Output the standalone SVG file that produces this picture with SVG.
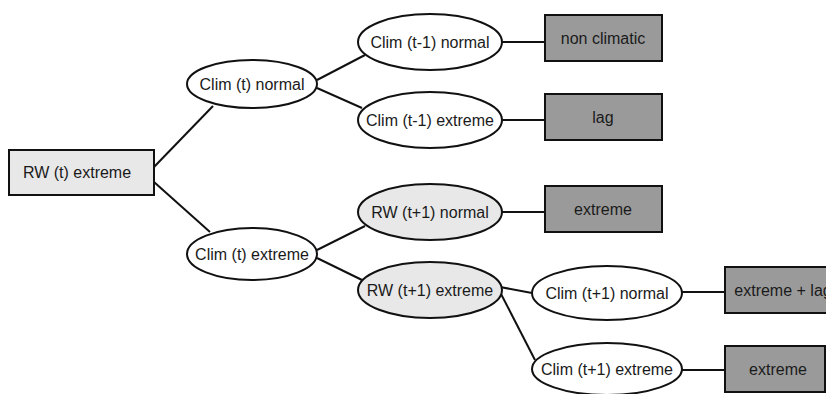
<svg xmlns="http://www.w3.org/2000/svg" width="826" height="394" viewBox="0 0 826 394">
<style>
.n{stroke:#111;stroke-width:2;fill:#fff}
.lt{fill:#e8e8e8}
.dk{fill:#9a9a9a}
.c{stroke:#111;stroke-width:2;fill:none}
text{font-family:"Liberation Sans",Arial,sans-serif;font-size:16px;fill:#1a1a1a;text-anchor:middle}
</style>
<rect width="826" height="394" fill="#fff"/>
<g id="connectors">
<line class="c" x1="154" y1="167" x2="213" y2="106"/>
<line class="c" x1="154" y1="182" x2="210" y2="232"/>
<line class="c" x1="317" y1="80" x2="365" y2="55"/>
<line class="c" x1="317" y1="88" x2="362" y2="108"/>
<line class="c" x1="317" y1="250" x2="365" y2="226"/>
<line class="c" x1="317" y1="258" x2="362" y2="280"/>
<line class="c" x1="502" y1="42" x2="545" y2="42"/>
<line class="c" x1="502" y1="120" x2="545" y2="120"/>
<line class="c" x1="501" y1="212" x2="545" y2="212"/>
<line class="c" x1="500" y1="287" x2="532" y2="293"/>
<line class="c" x1="500" y1="292" x2="535" y2="360"/>
<line class="c" x1="682" y1="292" x2="725" y2="292"/>
<line class="c" x1="682" y1="370" x2="725" y2="370"/>
</g>
<g id="rw_t_extreme"><rect class="n lt" x="9" y="150" width="145" height="45"/><text x="77" y="178">RW (t) extreme</text></g>
<g id="clim_t_normal"><ellipse class="n" cx="252" cy="84" rx="65" ry="24"/><text x="252" y="90">Clim (t) normal</text></g>
<g id="clim_t_extreme"><ellipse class="n" cx="252" cy="254" rx="65" ry="26"/><text x="252" y="260">Clim (t) extreme</text></g>
<g id="clim_tm1_normal"><ellipse class="n" cx="430" cy="42" rx="72" ry="28"/><text x="430" y="48">Clim (t-1) normal</text></g>
<g id="clim_tm1_extreme"><ellipse class="n" cx="430" cy="120" rx="72" ry="28"/><text x="430" y="126">Clim (t-1) extreme</text></g>
<g id="rw_tp1_normal"><ellipse class="n lt" cx="430" cy="212" rx="72" ry="28"/><text x="430" y="218">RW (t+1) normal</text></g>
<g id="rw_tp1_extreme"><ellipse class="n lt" cx="430" cy="290" rx="72" ry="28"/><text x="430" y="296">RW (t+1) extreme</text></g>
<g id="clim_tp1_normal"><ellipse class="n" cx="607" cy="293" rx="75" ry="27"/><text x="607" y="299">Clim (t+1) normal</text></g>
<g id="clim_tp1_extreme"><ellipse class="n" cx="607" cy="369" rx="75" ry="26"/><text x="607" y="375">Clim (t+1) extreme</text></g>
<g id="non_climatic"><rect class="n dk" x="545" y="15" width="117" height="46"/><text x="603" y="44">non climatic</text></g>
<g id="lag"><rect class="n dk" x="545" y="94" width="117" height="46"/><text x="603" y="123">lag</text></g>
<g id="extreme1"><rect class="n dk" x="545" y="186" width="117" height="46"/><text x="603" y="215">extreme</text></g>
<g id="extreme_lag"><rect class="n dk" x="725" y="267" width="120" height="46"/><text x="783" y="296">extreme + lag</text></g>
<g id="extreme2"><rect class="n dk" x="725" y="346" width="100" height="46"/><text x="778" y="375">extreme</text></g>
</svg>
